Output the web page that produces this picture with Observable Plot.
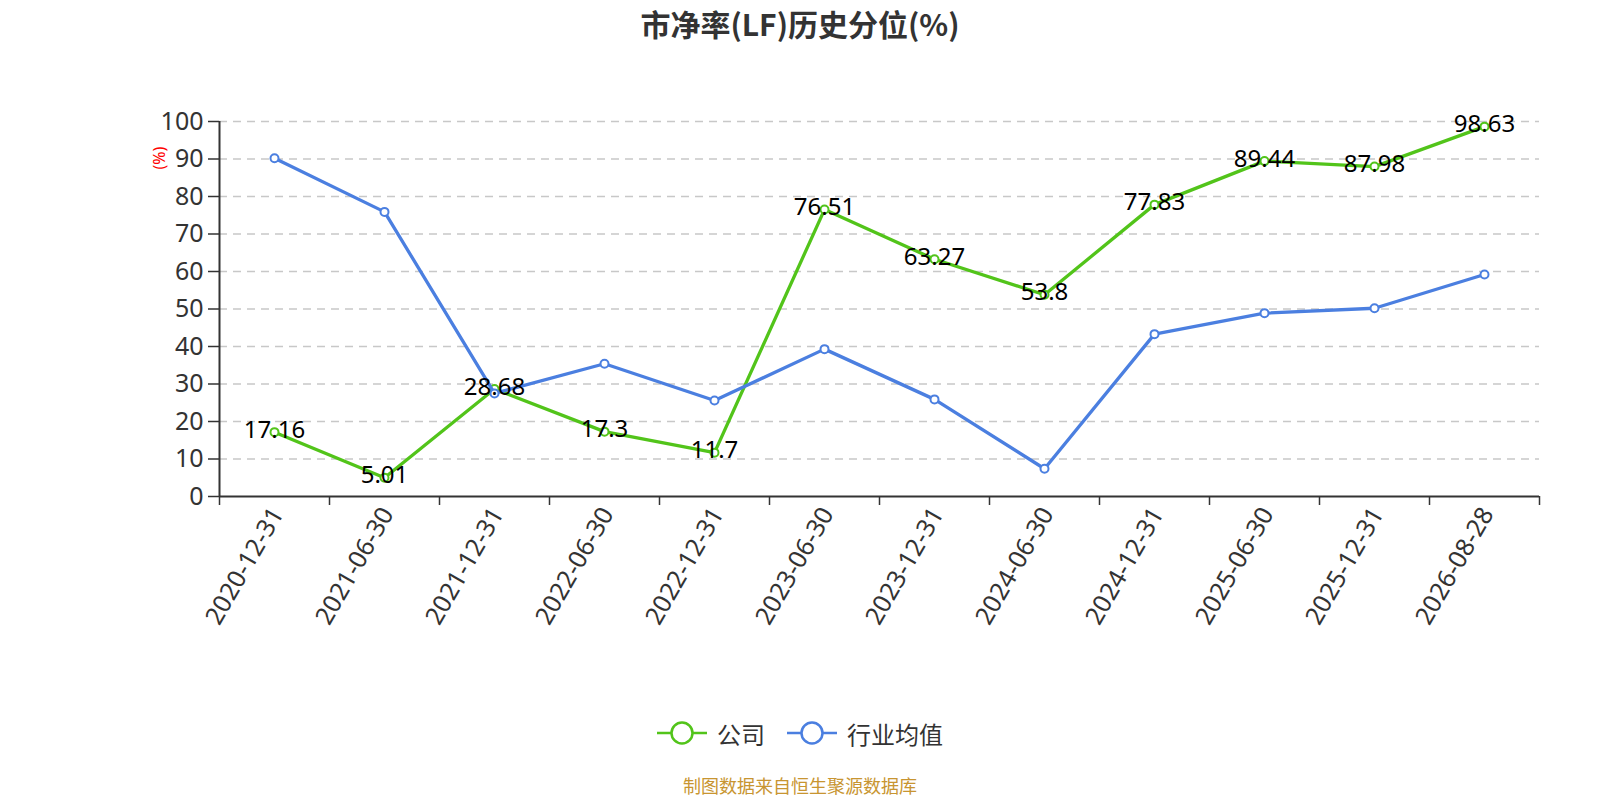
<!DOCTYPE html>
<html>
<head>
<meta charset="utf-8">
<script src="https://cdn.jsdelivr.net/npm/d3@7"></script>
<script src="https://cdn.jsdelivr.net/npm/@observablehq/plot@0.6"></script>
<style>
  body { margin: 0; background: #fff; font-family: "Noto Sans", "Noto Sans CJK SC", sans-serif; }
  #wrap { width: 1600px; height: 800px; position: relative; overflow: hidden; }
  #title { height: 50px; line-height: 46px; text-align: center; font-size: 30px; font-weight: bold; color: #333; font-family: "Noto Sans CJK SC", sans-serif; }
  #legend { height: 60px; margin-top: -7px; display: flex; justify-content: center; align-items: center; }
  #footer { height: 28px; margin-top: 8px; line-height: 28px; text-align: center; font-size: 18px; color: #c89531; font-family: "Noto Sans CJK SC", sans-serif; }
  svg { display: block; }
</style>
</head>
<body>
<div id="wrap">
  <div id="title">市净率(LF)历史分位(%)</div>
  <div id="chart"></div>
  <div id="legend"></div>
  <div id="footer">制图数据来自恒生聚源数据库</div>
</div>
<script>
const dates = ["2020-12-31","2021-06-30","2021-12-31","2022-06-30","2022-12-31","2023-06-30","2023-12-31","2024-06-30","2024-12-31","2025-06-30","2025-12-31","2026-08-28"];
const company = [17.16, 5.01, 28.68, 17.3, 11.7, 76.51, 63.27, 53.8, 77.83, 89.44, 87.98, 98.63];
const industry = [90.2, 75.9, 27.5, 35.4, 25.6, 39.3, 25.9, 7.4, 43.3, 48.9, 50.2, 59.2];
const yTicks = [0,10,20,30,40,50,60,70,80,90,100];
const seriesNames = ["公司", "行业均值"];
const colors = ["#52c41a", "#4b7fe0"];

const compData = dates.map((d, i) => ({i, date: d, v: company[i]}));
const indData = dates.map((d, i) => ({i, date: d, v: industry[i]}));
const boundaries = d3.range(-0.5, dates.length, 1);

const font = '"Noto Sans", "Noto Sans CJK SC", sans-serif';

const chart = Plot.plot({
  width: 1600,
  height: 660,
  marginTop: 71,
  marginBottom: 214,
  marginLeft: 219,
  marginRight: 61,
  style: {fontFamily: font, background: "#fff"},
  x: {domain: [-0.5, dates.length - 0.5]},
  y: {domain: [0, 100]},
  marks: [
    Plot.gridY(yTicks.filter(d => d > 0), {stroke: "#c8c8c8", strokeOpacity: 1, strokeWidth: 1.5, strokeDasharray: "8,6"}),
    Plot.axisY({ticks: yTicks, tickSize: 11, tickPadding: 5, fontSize: 25, color: "#333", label: null, stroke: "#333", strokeWidth: 1.5}),
    Plot.axisX({ticks: boundaries, tickSize: 9, tickFormat: () => "", label: null, stroke: "#333", strokeWidth: 1.5}),
    Plot.axisX({ticks: d3.range(dates.length), tickSize: 0, tickPadding: 13, tickRotate: -60, tickFormat: i => dates[i], fontSize: 25, color: "#333", label: null, dx: 3}),
    Plot.ruleY([0], {stroke: "#333", strokeWidth: 2}),
    Plot.ruleX([-0.5], {stroke: "#333", strokeWidth: 2}),
    Plot.text(["(%)"], {frameAnchor: "top-left", dx: -66, dy: 48, rotate: -90, fill: "red", fontSize: 16}),
    Plot.line(compData, {x: "i", y: "v", stroke: colors[0], strokeWidth: 3.3}),
    Plot.dot(compData, {x: "i", y: "v", r: 4, fill: "#fff", stroke: colors[0], strokeWidth: 2}),
    Plot.line(indData, {x: "i", y: "v", stroke: colors[1], strokeWidth: 3.3}),
    Plot.dot(indData, {x: "i", y: "v", r: 4, fill: "#fff", stroke: colors[1], strokeWidth: 2}),
    Plot.text(compData, {x: "i", y: "v", text: d => String(d.v), fontSize: 24, fill: "#000", dy: -2})
  ]
});
document.getElementById("chart").appendChild(chart);

// legend
const legend = document.getElementById("legend");
seriesNames.forEach((name, k) => {
  const item = document.createElement("div");
  item.style.display = "flex";
  item.style.alignItems = "center";
  item.style.marginRight = k === 0 ? "22px" : "0";
  item.innerHTML = `<svg width="50" height="26"><line x1="0" x2="50" y1="13" y2="13" stroke="${colors[k]}" stroke-width="2.5"/><circle cx="25" cy="13" r="10.5" fill="#fff" stroke="${colors[k]}" stroke-width="2.5"/></svg><span style="font-size:24px;color:#333;margin-left:10px;font-family:'Noto Sans CJK SC',sans-serif">${name}</span>`;
  legend.appendChild(item);
});
</script>
</body>
</html>
